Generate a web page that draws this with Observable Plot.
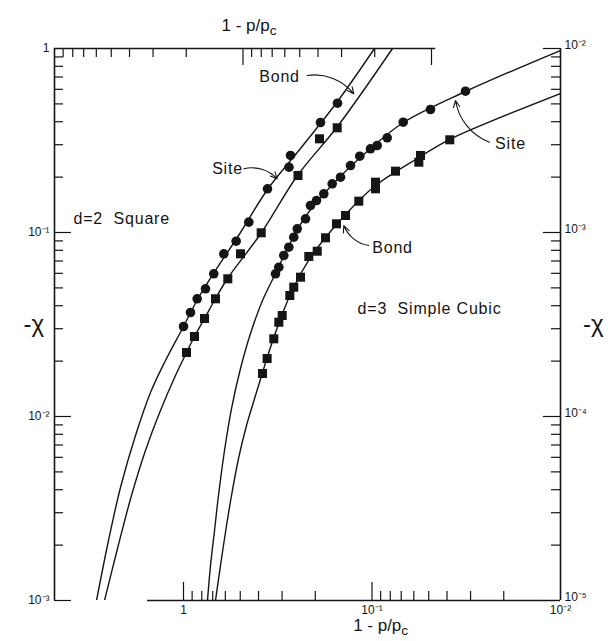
<!DOCTYPE html>
<html><head><meta charset="utf-8">
<script src="https://cdn.jsdelivr.net/npm/d3@7"></script>
<script src="https://cdn.jsdelivr.net/npm/@observablehq/plot@0.6"></script>
<style>
html,body{margin:0;padding:0;background:#fff;}
#chart svg{display:block;background:#fff;}
</style></head><body><div id="chart"></div>
<script>
// ---- axis relations (top axis = d=2 values, bottom axis = d=3 values; left = d=2, right = d=3)
const TOP_TO_BOTTOM = 4.835;   // a top-axis value times this gives the bottom-axis value at the same place
const RIGHT_TO_LEFT = 100;     // a right-axis value times this gives the left-axis value at the same height

// ---- tick values
const leftDecades = [1, 0.1, 0.01, 0.001];
const topDecades = [1, 0.1, 0.01];
const bottomDecades = [1, 0.1, 0.01];
const minorSteps = [2, 3, 4, 5, 6, 7, 8, 9];

// ---- d=2 square lattice (x: top axis 1-p/pc, y: left axis -chi)
const sq2SiteX = [0.03153, 0.03881, 0.05597, 0.05702, 0.07413, 0.09316, 0.1087, 0.1264, 0.1429, 0.1581, 0.1750, 0.1899, 0.2068];
const sq2SiteY = [0.5044, 0.3962, 0.2622, 0.2264, 0.1728, 0.1138, 0.0897, 0.0766, 0.05964, 0.04943, 0.04362, 0.03674, 0.03084];
const sq2BondX = [0.03164, 0.03928, 0.05107, 0.08007, 0.1031, 0.1204, 0.1399, 0.1600, 0.1809, 0.1994];
const sq2BondY = [0.3707, 0.3230, 0.2040, 0.09963, 0.0766, 0.05602, 0.04362, 0.03409, 0.02721, 0.02227];
// fitted curves
const sq2SiteFitX = [0.5986, 0.5170, 0.4466, 0.3717, 0.3095, 0.2577, 0.2068, 0.1743, 0.1434, 0.1031, 0.07413, 0.04955, 0.03153, 0.02006];
const sq2SiteFitY = [0.001, 0.002119, 0.004112, 0.007882, 0.01350, 0.02015, 0.03084, 0.04324, 0.05984, 0.1000, 0.1713, 0.2861, 0.5152, 1];
const sq2BondFitX = [0.5429, 0.4631, 0.3905, 0.3291, 0.2740, 0.2281, 0.1994, 0.1809, 0.1600, 0.1399, 0.1208, 0.07974, 0.05139, 0.03153, 0.01610];
const sq2BondFitY = [0.001, 0.001917, 0.003721, 0.006535, 0.01078, 0.01670, 0.02227, 0.02721, 0.03409, 0.04378, 0.05623, 0.1000, 0.2040, 0.3768, 1];

// ---- d=3 simple cubic (x: bottom axis 1-p/pc, y: right axis -chi)
const sc3SiteX = [0.03191, 0.04894, 0.06831, 0.08305, 0.09385, 0.1019, 0.1161, 0.1300, 0.1469, 0.1626, 0.1802, 0.1970, 0.2120, 0.2253, 0.2493, 0.2601, 0.2763, 0.2937, 0.3121, 0.3250];
const sc3SiteY = [0.005861, 0.004661, 0.003977, 0.003270, 0.002971, 0.002851, 0.002598, 0.002312, 0.001998, 0.001839, 0.001623, 0.001492, 0.001402, 0.001187, 0.001047, 0.000943, 0.0008318, 0.0007499, 0.0006478, 0.0005964];
const sc3BondX = [0.03867, 0.05529, 0.05645, 0.07505, 0.09581, 0.09581, 0.1175, 0.1382, 0.1543, 0.1765, 0.1953, 0.2164, 0.2394, 0.2601, 0.2729, 0.2995, 0.3121, 0.3319, 0.3601, 0.3809];
const sc3BondY = [0.003190, 0.002622, 0.002410, 0.002154, 0.001877, 0.001728, 0.001480, 0.001237, 0.001115, 0.0009358, 0.0007913, 0.0007407, 0.0005716, 0.0005044, 0.0004546, 0.0003539, 0.0003254, 0.0002644, 0.0002066, 0.0001713];
const sc3SiteFitX = [0.7461, 0.7190, 0.6846, 0.6523, 0.6060, 0.5563, 0.4984, 0.4411, 0.3809, 0.3250, 0.2773, 0.2253, 0.1620, 0.1019, 0.06806, 0.03191, 0.01];
const sc3SiteFitY = [0.00001, 0.00001549, 0.00002401, 0.00003721, 0.00006535, 0.0001105, 0.0001823, 0.0002826, 0.0004270, 0.0005984, 0.0008393, 0.001222, 0.001823, 0.002861, 0.003962, 0.005839, 0.009753];
const sc3BondFitX = [0.6765, 0.6365, 0.5912, 0.5563, 0.5107, 0.4631, 0.4150, 0.3809, 0.3584, 0.3331, 0.2985, 0.2609, 0.2172, 0.1765, 0.1382, 0.09581, 0.05529, 0.03881, 0.01];
const sc3BondFitY = [0.00001, 0.00001549, 0.00002556, 0.00003721, 0.00005911, 0.00008934, 0.0001300, 0.0001734, 0.0002119, 0.0002654, 0.0003628, 0.0005026, 0.0007043, 0.0009393, 0.001253, 0.001800, 0.002588, 0.003202, 0.005692];

// ---- annotations (in bottom-axis / left-axis units)
const noteText = ["Bond", "Site", "Site", "Bond", "d=3\u00a0\u00a0Simple Cubic"];
const noteX = [0.3095, 0.5840, 0.01842, 0.07785, 0.04955];
const noteY = [0.7045, 0.2228, 0.3046, 0.08288, 0.03864];
const arrowX1 = [0.2207, 0.4786, 0.02381, 0.1040];
const arrowY1 = [0.7133, 0.2220, 0.3096, 0.08497];
const arrowX2 = [0.1249, 0.3184, 0.03606, 0.1411];
const arrowY2 = [0.5671, 0.1958, 0.5217, 0.1091];
const squareNote = {text: "d=2\u00a0\u00a0Square", x: 3.834, y: 0.1192};

// ---- helpers
const zipXY = (xs, ys, f = 1, g = 1) => xs.map((x, i) => ({x: x * f, y: ys[i] * g}));
const SUP = {"-": "\u207b", "0": "\u2070", "1": "\u00b9", "2": "\u00b2", "3": "\u00b3", "4": "\u2074", "5": "\u2075", "6": "\u2076", "7": "\u2077", "8": "\u2078", "9": "\u2079"};
const pow10 = v => {
  const e = Math.round(Math.log10(v));
  return e === 0 ? "1" : "10" + String(e).split("").map(c => SUP[c]).join("");
};
const minorsOf = decades => decades.slice(1).flatMap(d => minorSteps.map(m => m * d));

const K = TOP_TO_BOTTOM;
const W = 613, H = 641, mL = 54, mR = 53, mT = 48, mB = 41;
const PW = W - mL - mR, PH = H - mT - mB;
const MAJ = 17, MIN = 9;
const ink = "#151515";

const sq2Site = zipXY(sq2SiteX, sq2SiteY, K);
const sq2Bond = zipXY(sq2BondX, sq2BondY, K);
const sq2SiteFit = zipXY(sq2SiteFitX, sq2SiteFitY, K);
const sq2BondFit = zipXY(sq2BondFitX, sq2BondFitY, K);
const sc3Site = zipXY(sc3SiteX, sc3SiteY, 1, RIGHT_TO_LEFT);
const sc3Bond = zipXY(sc3BondX, sc3BondY, 1, RIGHT_TO_LEFT);
const sc3SiteFit = zipXY(sc3SiteFitX, sc3SiteFitY, 1, RIGHT_TO_LEFT);
const sc3BondFit = zipXY(sc3BondFitX, sc3BondFitY, 1, RIGHT_TO_LEFT);

const notes = noteText.map((t, i) => ({t, x: noteX[i], y: noteY[i]}));
const arrows = arrowX1.map((x1, i) => ({x1, y1: arrowY1[i], x2: arrowX2[i], y2: arrowY2[i]}));

const xLeft = 1 * K, xRight = bottomDecades[bottomDecades.length - 1];
const yBottom = leftDecades[leftDecades.length - 1], yTop = leftDecades[0];

const lineOpts = {x: "x", y: "y", curve: "catmull-rom", stroke: ink, strokeWidth: 1.4, clip: true};
const FONT = "'Liberation Sans', Arial, sans-serif";

const svg = Plot.plot({
  width: W, height: H,
  marginLeft: mL, marginRight: mR, marginTop: mT, marginBottom: mB,
  x: {type: "log", domain: [xLeft, xRight], axis: null},
  y: {type: "log", domain: [yBottom, yTop], axis: null},
  style: {fontFamily: FONT, fontSize: "12px", color: ink, background: "#fff"},
  marks: [
    // frame lines
    Plot.ruleX([xLeft], {stroke: ink, strokeWidth: 1.6}),
    Plot.ruleX([xRight], {stroke: ink, strokeWidth: 1.6}),
    Plot.ruleY([yTop], {x1: xLeft, x2: 0.0095 * K, stroke: ink, strokeWidth: 1.6}),
    Plot.ruleY([yBottom], {x1: 1.55, x2: xRight, stroke: ink, strokeWidth: 1.6}),
    // left ticks (inward)
    Plot.tickY(leftDecades.slice(1), {y: d => d, insetRight: PW - MAJ, stroke: ink, strokeWidth: 1.2}),
    Plot.tickY(minorsOf(leftDecades), {y: d => d, insetRight: PW - MIN, stroke: ink, strokeWidth: 1.2}),
    // right ticks
    Plot.tickY(leftDecades.slice(0, 3), {y: d => d, insetLeft: PW - MAJ, stroke: ink, strokeWidth: 1.2}),
    Plot.tickY(minorsOf(leftDecades), {y: d => d, insetLeft: PW - MIN, stroke: ink, strokeWidth: 1.2}),
    // top ticks
    Plot.tickX(topDecades.slice(1), {x: d => d * K, insetBottom: PH - MAJ, stroke: ink, strokeWidth: 1.2}),
    Plot.tickX(minorsOf(topDecades), {x: d => d * K, insetBottom: PH - MIN, stroke: ink, strokeWidth: 1.2}),
    // bottom ticks
    Plot.tickX(bottomDecades.slice(0, 2), {x: d => d, insetTop: PH - MAJ - 1, stroke: ink, strokeWidth: 1.2}),
    Plot.tickX(minorsOf(bottomDecades), {x: d => d, insetTop: PH - MIN, stroke: ink, strokeWidth: 1.2}),
    // tick labels
    Plot.axisY(leftDecades, {anchor: "left", tickSize: 0, tickPadding: 5, tickFormat: pow10, label: null, fontSize: 12}),
    Plot.axisY(leftDecades, {anchor: "right", tickSize: 0, tickPadding: 4, dy: -3, tickFormat: d => pow10(d / RIGHT_TO_LEFT), label: null, fontSize: 12}),
    Plot.axisX(topDecades.map(d => d * K), {anchor: "top", tickSize: 0, tickPadding: 6, tickFormat: d => pow10(d / K), label: null, fontSize: 12}),
    Plot.axisX(bottomDecades, {anchor: "bottom", tickSize: 0, tickPadding: 5, tickFormat: pow10, label: null, fontSize: 12}),
    // axis titles
    Plot.text(["1 - p/p"], {x: 0.1 * K, frameAnchor: "top", dy: -30, dx: 6, fontSize: 17, fill: ink}),
    Plot.text(["1 - p/p"], {x: 0.1 * 0.9, frameAnchor: "bottom", dy: 30, fontSize: 17, fill: ink}),
    Plot.text(["-\u03c7"], {frameAnchor: "left", dx: -31, fontSize: 24, fill: ink}),
    Plot.text(["-\u03c7"], {frameAnchor: "right", dx: 43, fontSize: 24, fill: ink}),
    // fitted curves
    Plot.line(sq2SiteFit, lineOpts),
    Plot.line(sq2BondFit, lineOpts),
    Plot.line(sc3SiteFit, lineOpts),
    Plot.line(sc3BondFit, lineOpts),
    // data points
    Plot.dot(sq2Site, {x: "x", y: "y", r: 4.8, fill: ink}),
    Plot.dot(sc3Site, {x: "x", y: "y", r: 4.8, fill: ink}),
    Plot.dot(sq2Bond, {x: "x", y: "y", r: 5.1, symbol: "square", fill: ink}),
    Plot.dot(sc3Bond, {x: "x", y: "y", r: 5.1, symbol: "square", fill: ink}),
    // annotations
    Plot.text(notes, {x: "x", y: "y", text: "t", fontSize: 16, fill: ink}),
    Plot.text([squareNote], {x: "x", y: "y", text: "text", textAnchor: "start", fontSize: 16, fill: ink}),
    Plot.arrow(arrows, {x1: "x1", y1: "y1", x2: "x2", y2: "y2", bend: 30, stroke: ink, strokeWidth: 1.1, headLength: 10, headAngle: 50})
  ]
});

const root = d3.select(svg);
root.selectAll("text").filter(function () { return this.textContent === "1 - p/p"; }).each(function () {
  d3.select(this).append("tspan").attr("dy", "0.3em").attr("font-size", "0.8em").text("c");
});
const spaced = new Set([...noteText, squareNote.text]);
root.selectAll("text").filter(function () { return spaced.has(this.textContent); }).style("letter-spacing", "0.8px");
document.getElementById("chart").appendChild(svg);
</script>
</body></html>
